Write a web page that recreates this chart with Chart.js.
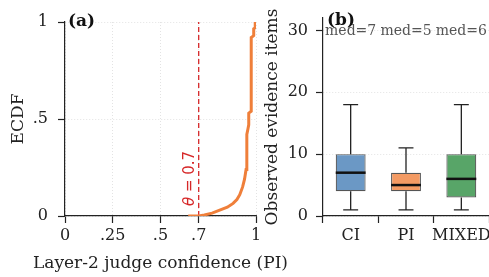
<!DOCTYPE html>
<html>
<head>
<meta charset="utf-8">
<script src="https://cdn.jsdelivr.net/npm/chart.js@4"></script>
<style>
  body { margin: 0; background: #fff; overflow: hidden; width: 489px; height: 277px; position: relative; }
  canvas { position: absolute; top: 0; }
  #ecdfChart { left: 0; }
  #boxChart { left: 250px; }
</style>
</head>
<body>
<canvas id="ecdfChart" width="300" height="277"></canvas>
<canvas id="boxChart" width="260" height="277"></canvas>
<script>
// panel (a): ECDF of layer-2 judge confidence
const confValues = [0.645, 0.70, 0.73, 0.77, 0.81, 0.85, 0.88, 0.90, 0.915, 0.93, 0.94, 0.948, 0.952, 0.952, 0.958, 0.962, 0.962, 0.975, 0.975, 0.988, 0.988, 0.996, 0.996, 1.0];
const ecdfValues = [0, 0, 0.005, 0.015, 0.03, 0.045, 0.065, 0.085, 0.11, 0.15, 0.19, 0.24, 0.30, 0.42, 0.45, 0.47, 0.53, 0.54, 0.92, 0.93, 0.965, 0.97, 1.0, 1.0];
const thetaValue = 0.7;
const confTicks = [0, 0.25, 0.5, 0.7, 1];
const confTickLabels = ['0', '.25', '.5', '.7', '1'];
const ecdfTicks = [0, 0.5, 1];
const ecdfTickLabels = ['0', '.5', '1'];

// panel (b): observed evidence items per group
const groups = ['CI', 'PI', 'MIXED'];
const whiskerLow = [1, 1, 1];
const quart1 = [4, 4, 3];
const medians = [7, 5, 6];
const quart3 = [10, 7, 10];
const whiskerHigh = [18, 11, 18];
const itemTicks = [0, 10, 20, 30];

const boxColors = ['#6b98c5', '#f39a63', '#58a568'];
const SERIF = "'DejaVu Serif', serif";

Chart.defaults.font.family = SERIF;
Chart.defaults.color = '#222';
Chart.defaults.animation = false;

// helper: drop the automatic label padding so the plot area stays where we put it
function fixPadding(scale) {
    scale.paddingLeft = 0;
    scale.paddingRight = 0;
    scale.paddingTop = 0;
    scale.paddingBottom = 0;
}

const ecdfExtras = {
    id: 'ecdfExtras',
    afterDatasetsDraw(chart) {
        const { ctx, chartArea, scales } = chart;
        ctx.save();
        // theta label, rotated
        const tx = scales.x.getPixelForValue(thetaValue) - 9;
        const ty = scales.y.getPixelForValue(0) - 10;
        ctx.translate(tx, ty);
        ctx.rotate(-Math.PI / 2);
        ctx.fillStyle = '#d62728';
        ctx.textBaseline = 'middle';
        ctx.textAlign = 'left';
        ctx.font = "italic 15px 'DejaVu Sans'";
        ctx.fillText('θ', 0, 0);
        const w = ctx.measureText('θ').width;
        ctx.font = "15px 'DejaVu Sans'";
        ctx.fillText(' = 0.7', w, 0);
        ctx.restore();

        ctx.save();
        ctx.fillStyle = '#111';
        ctx.font = "bold 17px " + SERIF;
        ctx.textBaseline = 'middle';
        ctx.fillText('(a)', chartArea.left + 3, chartArea.top);
        // x axis title, drawn by hand so it is not squeezed to the axis width
        ctx.fillStyle = '#222';
        ctx.font = "17px " + SERIF;
        ctx.textAlign = 'center';
        ctx.fillText('Layer-2 judge confidence (PI)', (chartArea.left + chartArea.right) / 2, 264);
        ctx.restore();
    }
};

new Chart(document.getElementById('ecdfChart'), {
    type: 'line',
    data: {
        datasets: [{
            data: confValues.map((x, i) => ({ x: x, y: ecdfValues[i] })),
            borderColor: '#ef7f3a',
            borderWidth: 3,
            pointRadius: 0,
            tension: 0
        }, {
            data: [{ x: thetaValue, y: 0 }, { x: thetaValue, y: 1 }],
            borderColor: '#d62728',
            borderWidth: 1.3,
            borderDash: [5, 3],
            pointRadius: 0
        }]
    },
    options: {
        responsive: false,
        devicePixelRatio: 1,
        layout: { padding: { top: 22, right: 44, left: 0, bottom: 0 } },
        plugins: { legend: { display: false }, tooltip: { enabled: false } },
        scales: {
            x: {
                type: 'linear',
                min: 0,
                max: 1,
                afterBuildTicks: s => { s.ticks = confTicks.map(v => ({ value: v })); },
                afterFit: s => { s.height = 61; fixPadding(s); },
                ticks: {
                    font: { size: 16 },
                    padding: 3,
                    maxRotation: 0,
                    autoSkip: false,
                    callback: v => confTickLabels[confTicks.indexOf(v)]
                },
                grid: { color: '#dcdcdc', lineWidth: 0.8, tickColor: '#222', tickLength: 7, tickWidth: 1.2 },
                border: { color: '#222', width: 1.2, dash: [1, 2] }
            },
            y: {
                min: 0,
                max: 1,
                afterBuildTicks: s => { s.ticks = ecdfTicks.map(v => ({ value: v })); },
                afterFit: s => { s.width = 65; fixPadding(s); },
                ticks: {
                    font: { size: 16 },
                    padding: 10,
                    callback: v => ecdfTickLabels[ecdfTicks.indexOf(v)]
                },
                grid: { color: '#dcdcdc', lineWidth: 0.8, tickColor: '#222', tickLength: 7, tickWidth: 1.2 },
                border: { color: '#222', width: 1.2, dash: [1, 2] },
                title: { display: true, text: 'ECDF', font: { size: 17 }, padding: { top: 8 } }
            }
        }
    },
    plugins: [ecdfExtras]
});

const boxExtras = {
    id: 'boxExtras',
    afterDatasetsDraw(chart) {
        const { ctx, chartArea, scales } = chart;
        const meta = chart.getDatasetMeta(0);
        const x = scales.x, y = scales.y;
        ctx.save();
        groups.forEach((g, i) => {
            const cx = x.getPixelForValue(i);
            const half = meta.data[i].width / 2;
            const cap = half / 2;
            ctx.strokeStyle = '#222';
            ctx.lineWidth = 1.3;
            ctx.beginPath();
            ctx.moveTo(cx, y.getPixelForValue(quart3[i]));
            ctx.lineTo(cx, y.getPixelForValue(whiskerHigh[i]));
            ctx.moveTo(cx - cap, y.getPixelForValue(whiskerHigh[i]));
            ctx.lineTo(cx + cap, y.getPixelForValue(whiskerHigh[i]));
            ctx.moveTo(cx, y.getPixelForValue(quart1[i]));
            ctx.lineTo(cx, y.getPixelForValue(whiskerLow[i]));
            ctx.moveTo(cx - cap, y.getPixelForValue(whiskerLow[i]));
            ctx.lineTo(cx + cap, y.getPixelForValue(whiskerLow[i]));
            ctx.stroke();
            // median
            ctx.strokeStyle = '#111';
            ctx.lineWidth = 2.5;
            ctx.beginPath();
            ctx.moveTo(cx - half, y.getPixelForValue(medians[i]));
            ctx.lineTo(cx + half, y.getPixelForValue(medians[i]));
            ctx.stroke();
            // annotation
            ctx.fillStyle = '#555';
            ctx.font = "14px " + SERIF;
            ctx.textAlign = 'center';
            ctx.textBaseline = 'middle';
            ctx.fillText('med=' + medians[i], cx, y.getPixelForValue(29.8));
        });
        ctx.fillStyle = '#111';
        ctx.font = "bold 17px " + SERIF;
        ctx.textAlign = 'left';
        ctx.textBaseline = 'middle';
        ctx.fillText('(b)', chartArea.left + 4, chartArea.top + 3);
        ctx.restore();
    }
};

new Chart(document.getElementById('boxChart'), {
    type: 'bar',
    data: {
        labels: groups,
        datasets: [{
            data: quart1.map((v, i) => [v, quart3[i]]),
            backgroundColor: boxColors,
            borderColor: '#555',
            borderWidth: 1.2,
            borderSkipped: false,
            barPercentage: 0.54,
            categoryPercentage: 1
        }]
    },
    options: {
        responsive: false,
        devicePixelRatio: 1,
        layout: { padding: { top: 18, right: 21, left: 0, bottom: 0 } },
        plugins: { legend: { display: false }, tooltip: { enabled: false } },
        scales: {
            x: {
                afterFit: s => { s.height = 61; fixPadding(s); },
                ticks: { font: { size: 16 }, padding: 3, maxRotation: 0, autoSkip: false },
                grid: { drawOnChartArea: false, tickColor: '#222', tickLength: 7, tickWidth: 1.2 },
                border: { color: '#222', width: 1.2 }
            },
            y: {
                min: 0,
                max: 32,
                afterBuildTicks: s => { s.ticks = itemTicks.map(v => ({ value: v })); },
                afterFit: s => { s.width = 73; fixPadding(s); },
                ticks: { font: { size: 16 }, padding: 8 },
                grid: { color: '#dcdcdc', lineWidth: 0.8, tickColor: '#222', tickLength: 7, tickWidth: 1.2 },
                border: { color: '#222', width: 1.2, dash: [1, 2] },
                title: { display: true, text: 'Observed evidence items', font: { size: 17 }, padding: { top: 12 } }
            }
        }
    },
    plugins: [boxExtras]
});
</script>
</body>
</html>
